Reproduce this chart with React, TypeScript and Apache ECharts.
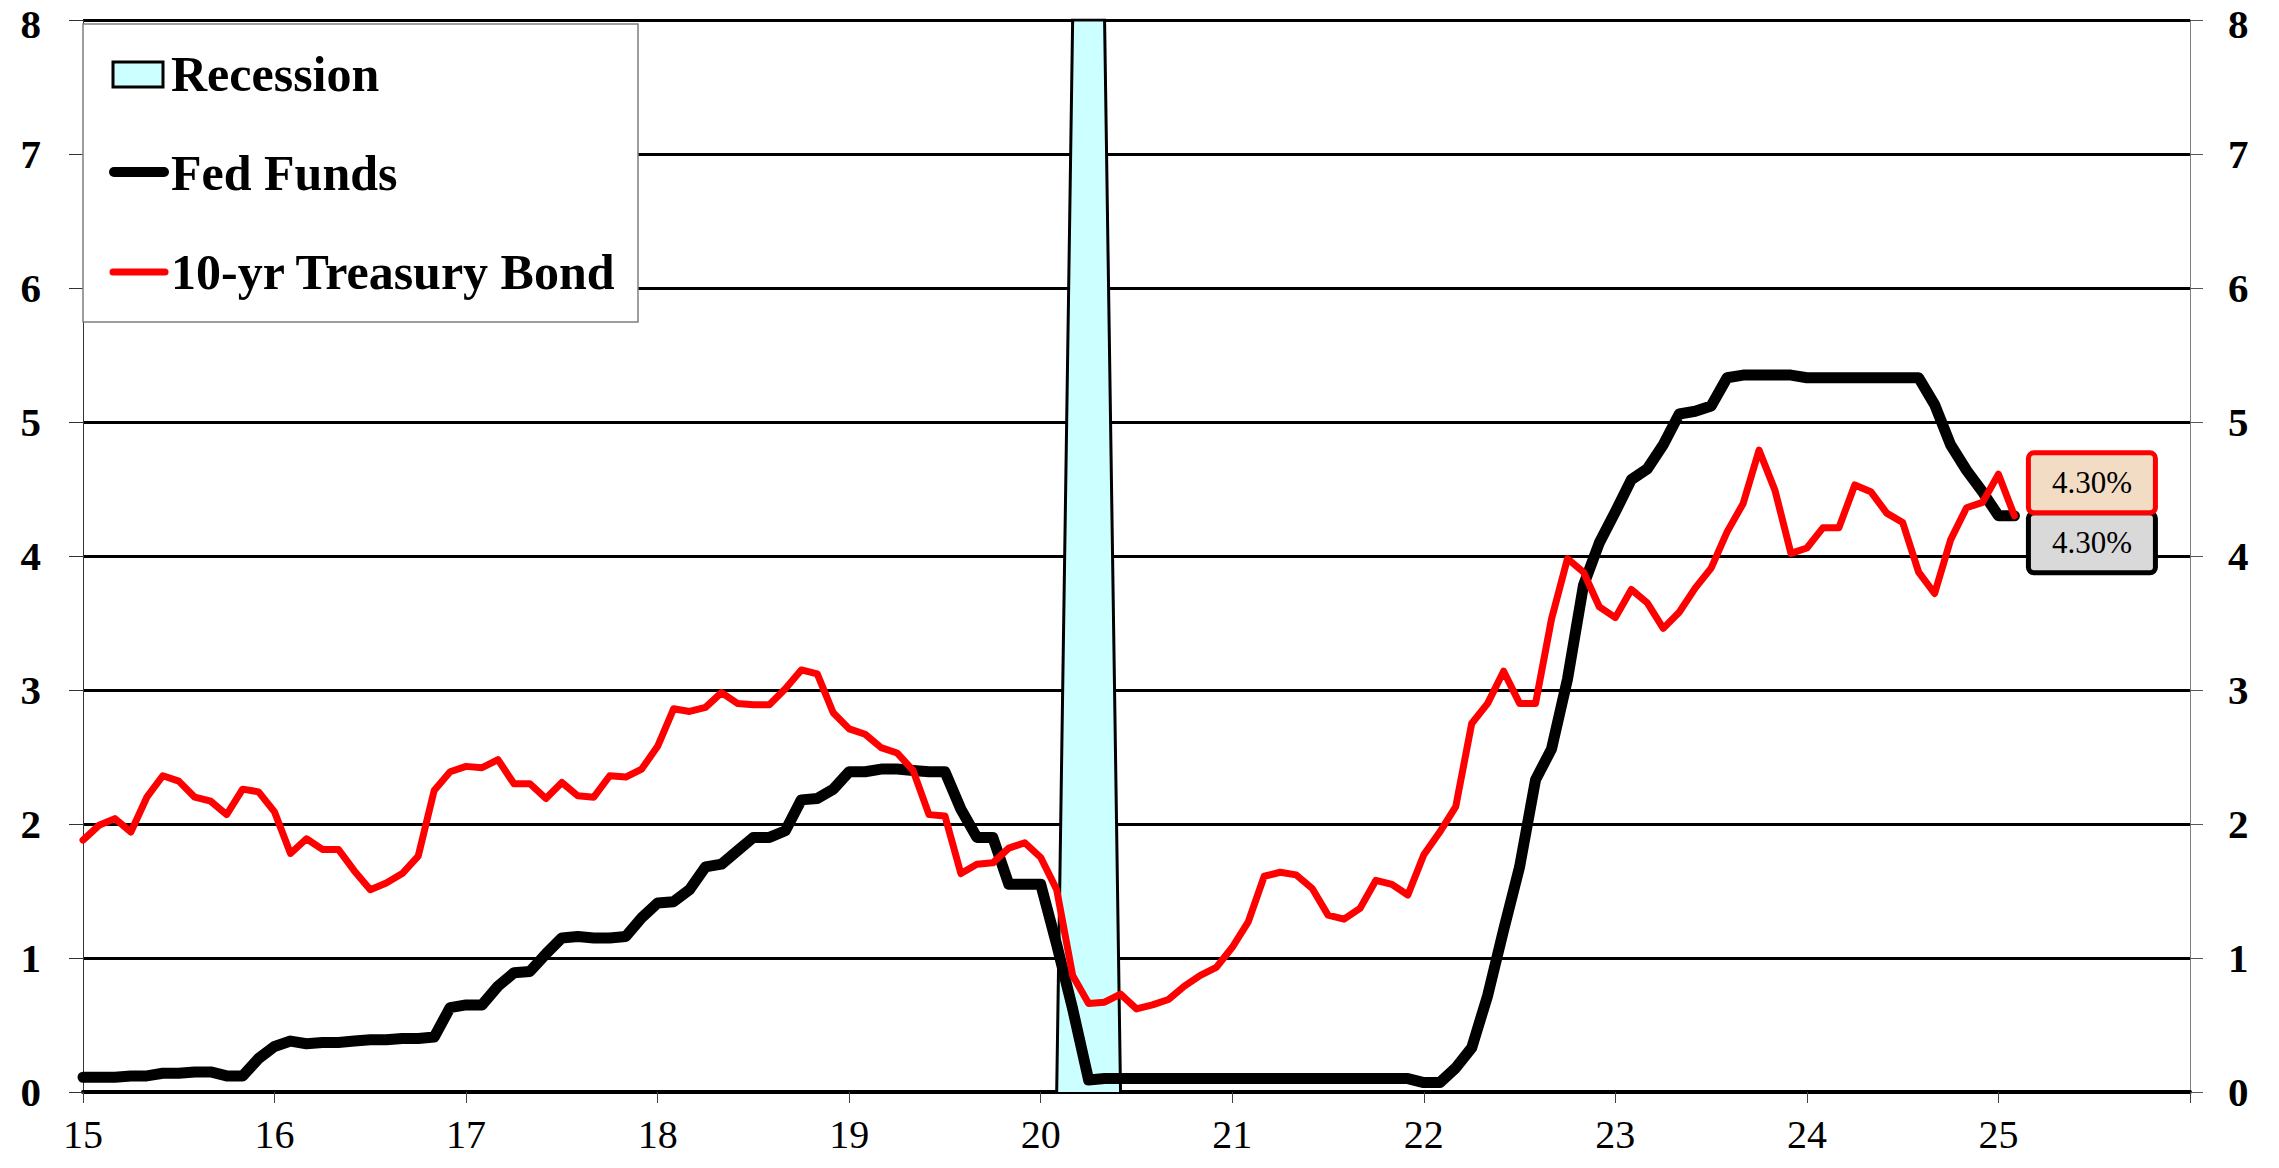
import { useEffect, useRef } from 'react';
import * as echarts from 'echarts';

// Monthly data, Jan 2015 .. Feb 2025 (x = two-digit year + month/12)
const START_YEAR = 15;

const fedFunds = [
  // 2015
  0.11, 0.11, 0.11, 0.12, 0.12, 0.14, 0.14, 0.15, 0.15, 0.12, 0.12, 0.25,
  // 2016
  0.34, 0.38, 0.36, 0.37, 0.37, 0.38, 0.39, 0.39, 0.40, 0.40, 0.41, 0.63,
  // 2017
  0.65, 0.65, 0.79, 0.89, 0.90, 1.03, 1.15, 1.16, 1.15, 1.15, 1.16, 1.30,
  // 2018
  1.41, 1.42, 1.51, 1.68, 1.70, 1.80, 1.90, 1.90, 1.95, 2.18, 2.19, 2.26,
  // 2019
  2.39, 2.39, 2.41, 2.41, 2.40, 2.39, 2.39, 2.11, 1.90, 1.90, 1.55, 1.55,
  // 2020
  1.55, 1.10, 0.62, 0.09, 0.10, 0.10, 0.10, 0.10, 0.10, 0.10, 0.10, 0.10,
  // 2021
  0.10, 0.10, 0.10, 0.10, 0.10, 0.10, 0.10, 0.10, 0.10, 0.10, 0.10, 0.10,
  // 2022
  0.07, 0.07, 0.18, 0.33, 0.72, 1.21, 1.68, 2.33, 2.56, 3.08, 3.78, 4.10,
  // 2023
  4.33, 4.57, 4.65, 4.83, 5.06, 5.08, 5.12, 5.33, 5.35, 5.35, 5.35, 5.35,
  // 2024
  5.33, 5.33, 5.33, 5.33, 5.33, 5.33, 5.33, 5.33, 5.13, 4.83, 4.64, 4.48,
  // 2025
  4.30, 4.30,
];

const treasury10y = [
  // 2015
  1.88, 1.99, 2.04, 1.94, 2.20, 2.36, 2.32, 2.20, 2.17, 2.07, 2.26, 2.24,
  // 2016
  2.09, 1.78, 1.89, 1.81, 1.81, 1.65, 1.51, 1.56, 1.63, 1.76, 2.25, 2.39,
  // 2017
  2.43, 2.42, 2.48, 2.30, 2.30, 2.19, 2.31, 2.21, 2.20, 2.36, 2.35, 2.41,
  // 2018
  2.58, 2.86, 2.84, 2.87, 2.98, 2.90, 2.89, 2.89, 3.01, 3.15, 3.12, 2.83,
  // 2019
  2.71, 2.67, 2.57, 2.53, 2.40, 2.07, 2.06, 1.63, 1.70, 1.71, 1.82, 1.86,
  // 2020
  1.75, 1.51, 0.87, 0.66, 0.67, 0.73, 0.62, 0.65, 0.69, 0.79, 0.87, 0.93,
  // 2021
  1.08, 1.27, 1.61, 1.64, 1.62, 1.52, 1.32, 1.29, 1.37, 1.58, 1.55, 1.47,
  // 2022
  1.77, 1.94, 2.13, 2.75, 2.90, 3.14, 2.90, 2.90, 3.53, 3.98, 3.88, 3.62,
  // 2023
  3.54, 3.75, 3.65, 3.46, 3.58, 3.76, 3.91, 4.18, 4.39, 4.79, 4.49, 4.02,
  // 2024
  4.06, 4.21, 4.21, 4.53, 4.48, 4.32, 4.25, 3.88, 3.72, 4.12, 4.36, 4.40,
  // 2025
  4.61, 4.30,
];

// Recession band: monthly levels starting Feb 2020
const recessionStartMonth = 61; // index of Feb 2020 from Jan 2015
const recessionLevels = [0, 8, 8, 8, 0];

const X_MIN = 15;
const X_MAX = 26;
const Y_MIN = 0;
const Y_MAX = 8;

const SERIES_NAMES = ['Recession', 'Fed Funds', '10-yr Treasury Bond'];

const SERIF = '"Liberation Serif", "Times New Roman", Times, serif';

const toX = (i: number) => START_YEAR + i / 12;

export default function App() {
  const ref = useRef<HTMLDivElement>(null);

  useEffect(() => {
    document.body.style.margin = '0';
    document.body.style.overflow = 'hidden';
    if (!ref.current) return;
    const chart = echarts.init(ref.current, undefined, { renderer: 'svg' });

    const ffData = fedFunds.map((v, i) => [toX(i), v]);
    const tyData = treasury10y.map((v, i) => [toX(i), v]);
    const recData = recessionLevels.map((v, i) => [toX(recessionStartMonth + i), v]);
    const ffLast = ffData[ffData.length - 1];
    const tyLast = tyData[tyData.length - 1];

    const boxLabel = (bg: string, border: string, dy: number) => ({
      show: true,
      position: 'right',
      distance: 77,
      align: 'center',
      verticalAlign: 'middle',
      offset: [0, dy],
      formatter: (p: any) => Number(p.value).toFixed(2) + '%',
      fontFamily: SERIF,
      fontSize: 31,
      color: '#000',
      backgroundColor: bg,
      borderColor: border,
      borderWidth: 5,
      borderRadius: 3,
      width: 122,
      lineHeight: 55,
      height: 55,
      padding: 0,
    });

    const yAxisBase = {
      type: 'value',
      min: Y_MIN,
      max: Y_MAX,
      interval: 1,
    };

    const yLabel = (margin: number) => ({
      fontFamily: SERIF,
      fontWeight: 'bold',
      fontSize: 41,
      color: '#000',
      margin,
      formatter: (v: number) => (v >= Y_MAX ? `{top|${v}}` : String(v)),
      rich: {
        top: {
          fontFamily: SERIF,
          fontWeight: 'bold',
          fontSize: 41,
          color: '#000',
          padding: [8, 0, 0, 0],
        },
      },
    });

    const option: any = {
      animation: false,
      backgroundColor: '#ffffff',
      grid: { left: 83, right: 89, top: 20, bottom: 76, outerBoundsMode: 'none' },
      xAxis: {
        type: 'value',
        min: X_MIN,
        max: X_MAX,
        interval: 1,
        axisLine: { show: true, onZero: true, lineStyle: { color: '#000', width: 4 } },
        axisTick: { show: true, inside: false, length: 11, lineStyle: { color: '#404040', width: 1 } },
        axisLabel: {
          fontFamily: SERIF,
          fontSize: 40,
          color: '#000',
          margin: 22,
          formatter: (v: number) => (v >= X_MAX ? '' : String(v)),
        },
        splitLine: { show: false },
      },
      yAxis: [
        {
          ...yAxisBase,
          position: 'left',
          axisLine: { show: true, onZero: false, lineStyle: { color: '#333', width: 1 } },
          axisTick: { show: true, length: 14, lineStyle: { color: '#333', width: 1 } },
          axisLabel: yLabel(42),
          splitLine: { show: true, lineStyle: { color: '#000', width: 3 } },
        },
        {
          ...yAxisBase,
          position: 'right',
          axisLine: { show: true, onZero: false, lineStyle: { color: '#808080', width: 1 } },
          axisTick: { show: true, length: 13, lineStyle: { color: '#555', width: 1 } },
          axisLabel: yLabel(38),
          splitLine: { show: false },
        },
      ],
      series: [
        {
          name: SERIES_NAMES[0],
          type: 'line',
          data: recData,
          symbol: 'none',
          silent: true,
          z: 1,
          lineStyle: { color: '#000', width: 3, join: 'miter' },
          areaStyle: { color: '#CCFFFF', opacity: 1 },
        },
        {
          name: SERIES_NAMES[1],
          type: 'line',
          data: ffData,
          symbol: 'none',
          z: 2,
          lineStyle: { color: '#000', width: 11, join: 'round', cap: 'round' },
          markPoint: {
            symbol: 'circle',
            symbolSize: 1,
            itemStyle: { color: 'rgba(0,0,0,0)' },
            data: [{ coord: ffLast, value: ffLast[1] }],
            label: boxLabel('#D9D9D9', '#000000', 27),
          },
        },
        {
          name: SERIES_NAMES[2],
          type: 'line',
          data: tyData,
          symbol: 'none',
          z: 3,
          lineStyle: { color: '#FF0000', width: 7, join: 'round', cap: 'round' },
          markPoint: {
            symbol: 'circle',
            symbolSize: 1,
            itemStyle: { color: 'rgba(0,0,0,0)' },
            data: [{ coord: tyLast, value: tyLast[1] }],
            label: boxLabel('#F2DCC4', '#FF0000', -33),
          },
        },
      ],
      graphic: [
        {
          type: 'rect',
          z: 100,
          shape: { x: 83, y: 24, width: 555, height: 298 },
          style: { fill: '#ffffff', stroke: '#7f7f7f', lineWidth: 1.5 },
        },
        {
          type: 'rect',
          z: 101,
          shape: { x: 113, y: 62, width: 50, height: 25 },
          style: { fill: '#CCFFFF', stroke: '#000', lineWidth: 3 },
        },
        {
          type: 'line',
          z: 101,
          shape: { x1: 114, y1: 172, x2: 164, y2: 172 },
          style: { stroke: '#000', lineWidth: 10, lineCap: 'round' },
        },
        {
          type: 'line',
          z: 101,
          shape: { x1: 113, y1: 272, x2: 165, y2: 272 },
          style: { stroke: '#FF0000', lineWidth: 7, lineCap: 'round' },
        },
        ...SERIES_NAMES.map((name, i) => ({
          type: 'text',
          z: 101,
          x: 171,
          y: [74, 173, 272][i],
          style: {
            text: name,
            fontFamily: SERIF,
            fontWeight: 'bold',
            fontSize: 50,
            fill: '#000',
            verticalAlign: 'middle',
            align: 'left',
          },
        })),
      ],
    };

    chart.setOption(option);
    return () => chart.dispose();
  }, []);

  return <div ref={ref} style={{ width: 2279, height: 1168 }} />;
}
